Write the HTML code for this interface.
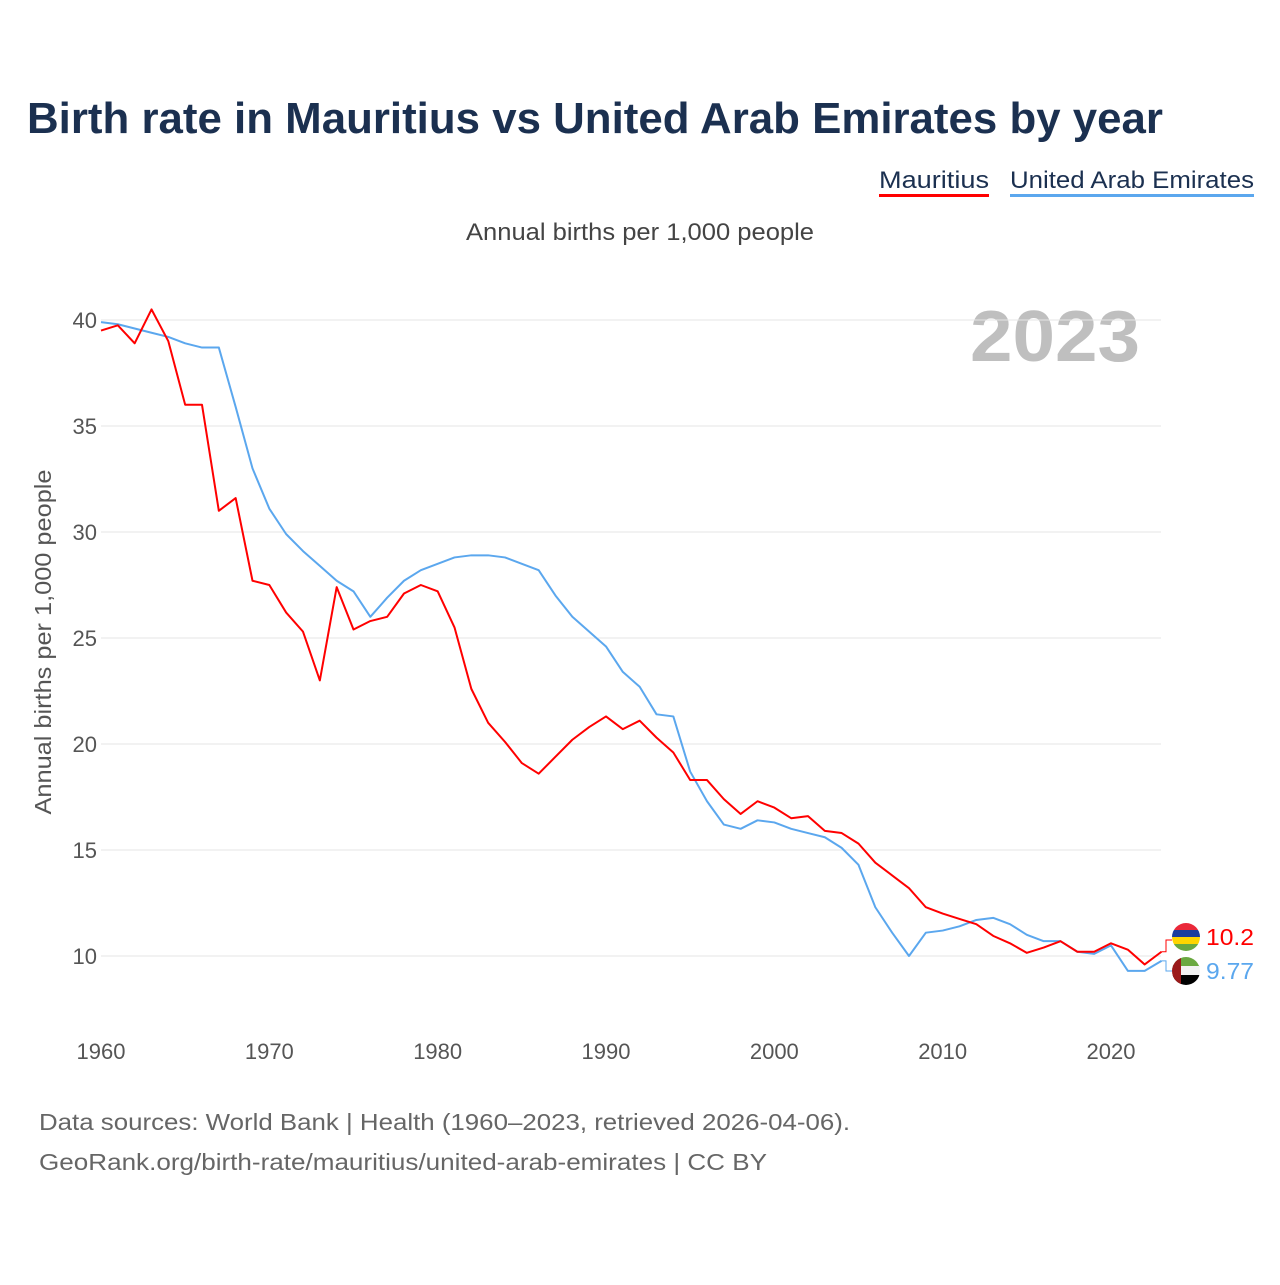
<!DOCTYPE html>
<html><head><meta charset="utf-8"><style>
body{margin:0;background:#fff;width:1280px;height:1280px;overflow:hidden;font-family:"Liberation Sans",sans-serif}
</style></head><body>
<svg width="1280" height="1280" viewBox="0 0 1280 1280" xmlns="http://www.w3.org/2000/svg" font-family="Liberation Sans, sans-serif">
<defs>
<clipPath id="c1"><circle cx="1186" cy="937" r="14"/></clipPath>
<clipPath id="c2"><circle cx="1186" cy="971" r="14"/></clipPath>
</defs>
<text x="27" y="133" font-size="44" font-weight="bold" fill="#1b3050" textLength="1136" lengthAdjust="spacingAndGlyphs">Birth rate in Mauritius vs United Arab Emirates by year</text>
<g><text x="879" y="188" font-size="24" fill="#1b3050" textLength="110" lengthAdjust="spacingAndGlyphs">Mauritius</text><rect x="879" y="194" width="110" height="3" fill="#ff0000"/></g>
<g><text x="1010" y="188" font-size="24" fill="#1b3050" textLength="244" lengthAdjust="spacingAndGlyphs">United Arab Emirates</text><rect x="1010" y="194" width="244" height="3" fill="#5ba7ee"/></g>
<text x="466" y="240" font-size="24" fill="#444" textLength="348" lengthAdjust="spacingAndGlyphs">Annual births per 1,000 people</text>
<text x="970" y="361" font-size="72" font-weight="bold" fill="#bfbfbf" textLength="170" lengthAdjust="spacingAndGlyphs">2023</text>
<text transform="translate(51,642) rotate(-90)" font-size="23" fill="#555" text-anchor="middle" textLength="345" lengthAdjust="spacingAndGlyphs">Annual births per 1,000 people</text>
<g id="grid"></g><g id="lines"></g>
<g>
<polyline id="conM" fill="none" stroke="#ff0000" stroke-width="1"/>
<polyline id="conU" fill="none" stroke="#5ba7ee" stroke-width="1"/>
</g>
<g clip-path="url(#c1)">
<rect x="1172" y="923" width="28" height="7" fill="#ea2839"/><rect x="1172" y="930" width="28" height="7" fill="#1a3d9d"/><rect x="1172" y="937" width="28" height="7" fill="#ffd500"/><rect x="1172" y="944" width="28" height="7" fill="#6aa840"/>
</g>
<g clip-path="url(#c2)">
<rect x="1172" y="957" width="28" height="10" fill="#6aa840"/><rect x="1172" y="966" width="28" height="10" fill="#f2f2f2"/><rect x="1172" y="975" width="28" height="10" fill="#000"/><rect x="1172" y="957" width="9" height="28" fill="#9b1a1a"/>
</g>
<text x="1206" y="945" font-size="23" fill="#ff0000" textLength="48" lengthAdjust="spacingAndGlyphs">10.2</text>
<text x="1206" y="979" font-size="23" fill="#5ba7ee" textLength="48" lengthAdjust="spacingAndGlyphs">9.77</text>
<text x="39" y="1130" font-size="23" fill="#666" textLength="811" lengthAdjust="spacingAndGlyphs">Data sources: World Bank | Health (1960–2023, retrieved 2026-04-06).</text>
<text x="39" y="1170" font-size="23" fill="#666" textLength="728" lengthAdjust="spacingAndGlyphs">GeoRank.org/birth-rate/mauritius/united-arab-emirates | CC BY</text>
</svg>
<script>
const years=[];for(let y=1960;y<=2023;y++)years.push(y);
const mauritius=[39.5,39.75,38.9,40.5,39.0,36.0,36.0,31.0,31.6,27.7,27.5,26.2,25.3,23.0,27.4,25.4,25.8,26.0,27.1,27.5,27.2,25.5,22.6,21.0,20.1,19.1,18.6,19.4,20.2,20.8,21.3,20.7,21.1,20.3,19.6,18.3,18.3,17.4,16.7,17.3,17.0,16.5,16.6,15.9,15.8,15.3,14.4,13.8,13.2,12.3,12.0,11.75,11.5,10.95,10.6,10.15,10.4,10.7,10.2,10.2,10.6,10.3,9.6,10.2];
const uae=[39.9,39.8,39.6,39.4,39.2,38.9,38.7,38.7,35.9,33.0,31.1,29.9,29.1,28.4,27.7,27.2,26.0,26.9,27.7,28.2,28.5,28.8,28.9,28.9,28.8,28.5,28.2,27.0,26.0,25.3,24.6,23.4,22.7,21.4,21.3,18.7,17.3,16.2,16.0,16.4,16.3,16.0,15.8,15.6,15.1,14.3,12.3,11.1,10.0,11.1,11.2,11.4,11.7,11.8,11.5,11.0,10.7,10.7,10.2,10.1,10.5,9.3,9.3,9.77];
const yTicks=[10,15,20,25,30,35,40];
const xTicks=[1960,1970,1980,1990,2000,2010,2020];
const X=y=>101+(y-1960)*(1010/60);
const Y=v=>956-(v-10)*21.2;
const NS='http://www.w3.org/2000/svg';
const grid=document.getElementById('grid');
yTicks.forEach(t=>{
 const l=document.createElementNS(NS,'line');
 l.setAttribute('x1',101);l.setAttribute('x2',1161);l.setAttribute('y1',Y(t));l.setAttribute('y2',Y(t));
 l.setAttribute('stroke','#e6e6e6');l.setAttribute('stroke-width','1');
 
 
 grid.appendChild(l);
 const tx=document.createElementNS(NS,'text');
 tx.setAttribute('x',97);tx.setAttribute('y',Y(t)+8);tx.setAttribute('text-anchor','end');
 tx.setAttribute('font-size','22');tx.setAttribute('fill','#555');tx.textContent=t;
 
 
 grid.appendChild(tx);
});
xTicks.forEach(t=>{
 const tx=document.createElementNS(NS,'text');
 tx.setAttribute('x',X(t));tx.setAttribute('y',1059);tx.setAttribute('text-anchor','middle');
 tx.setAttribute('font-size','22');tx.setAttribute('fill','#555');tx.textContent=t;
 
 
 grid.appendChild(tx);
});
const lines=document.getElementById('lines');
function draw(vals,color,name){
 const p=document.createElementNS(NS,'polyline');
 p.setAttribute('points',vals.map((v,i)=>X(years[i])+','+Y(v)).join(' '));
 p.setAttribute('fill','none');p.setAttribute('stroke',color);p.setAttribute('stroke-width','2');
 p.setAttribute('stroke-linejoin','round');
 
 
 lines.appendChild(p);
}
draw(uae,'#5ba7ee','uae-line');
draw(mauritius,'#ff0000','mauritius-line');
const xe=X(2023);
document.getElementById('conM').setAttribute('points',`${xe},${Y(mauritius[63])} 1166,${Y(mauritius[63])} 1166,940 1172,940`);
document.getElementById('conU').setAttribute('points',`${xe},${Y(uae[63])} 1166,${Y(uae[63])} 1166,971 1172,971`);
</script>
</body></html>
